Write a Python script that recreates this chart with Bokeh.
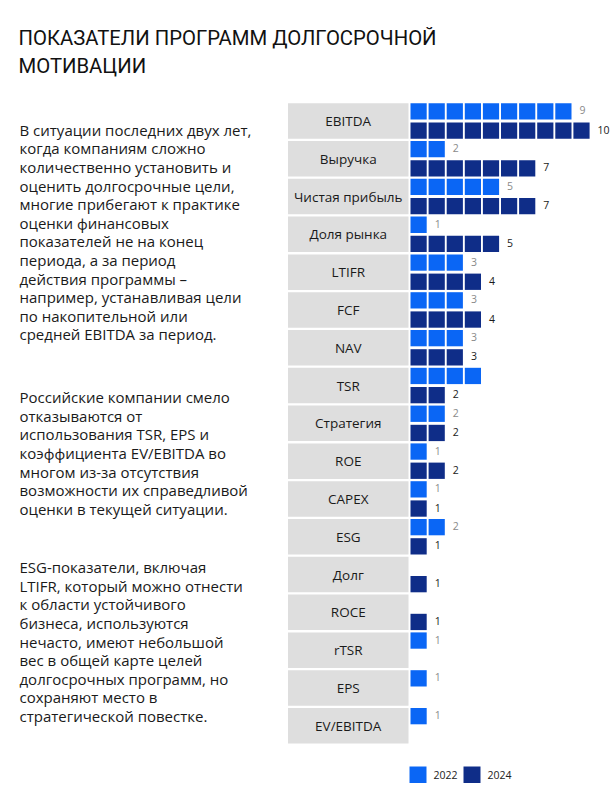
from bokeh.plotting import figure
from bokeh.models import Range1d
from bokeh.core.properties import value
from bokeh.embed import file_html
from bokeh.resources import INLINE

# ---------------- data ----------------
title_lines = ["ПОКАЗАТЕЛИ ПРОГРАММ ДОЛГОСРОЧНОЙ", "МОТИВАЦИИ"]
para1 = [
    "В ситуации последних двух лет,",
    "когда компаниям сложно",
    "количественно установить и",
    "оценить долгосрочные цели,",
    "многие прибегают к практике",
    "оценки финансовых",
    "показателей не на конец",
    "периода, а за период",
    "действия программы –",
    "например, устанавливая цели",
    "по накопительной или",
    "средней EBITDA за период.",
]
para2 = [
    "Российские компании смело",
    "отказываются от",
    "использования TSR, EPS и",
    "коэффициента EV/EBITDA во",
    "многом из-за отсутствия",
    "возможности их справедливой",
    "оценки в текущей ситуации.",
]
para3 = [
    "ESG-показатели, включая",
    "LTIFR, который можно отнести",
    "к области устойчивого",
    "бизнеса, используются",
    "нечасто, имеют небольшой",
    "вес в общей карте целей",
    "долгосрочных программ, но",
    "сохраняют место в",
    "стратегической повестке.",
]
categories = ["EBITDA", "Выручка", "Чистая прибыль", "Доля рынка", "LTIFR", "FCF",
              "NAV", "TSR", "Стратегия", "ROE", "CAPEX", "ESG", "Долг", "ROCE",
              "rTSR", "EPS", "EV/EBITDA"]
v2022 = [9, 2, 5, 1, 3, 3, 3, 4, 2, 1, 1, 2, 0, 0, 1, 1, 1]
v2024 = [10, 7, 7, 5, 4, 4, 3, 2, 2, 2, 1, 1, 1, 1, 0, 0, 0]
lbl2022 = ["9", "2", "5", "1", "3", "3", "3", "", "2", "1", "1", "2", "", "", "1", "1", "1"]
lbl2024 = ["10", "7", "7", "5", "4", "4", "3", "2", "2", "2", "1", "1", "1", "1", "", "", ""]
years = ["2022", "2024"]

# ---------------- style / layout ----------------
C22 = "#0A66F5"
C24 = "#0F2D88"
BOX = "#DEDEDE"
TXT = "#1A1A1A"
FONT = value("Open Sans")

W, H = 613, 800
OFF = 0

BOX_L, BOX_R = 287.5 - OFF, 408 - OFF
ROW0, ROWP, BOXH = 102.7 - OFF, 37.8, 35.5
SQ_X0, SQ_P, SQ_W, SQ_H = 410 - OFF, 18.1, 16.2, 16.3
DARK_DY = 19.2

p = figure(width=W, height=H, x_range=Range1d(0, W), y_range=Range1d(H, 0),
           output_backend="svg", toolbar_location=None,
           x_axis_type=None, y_axis_type=None, min_border=0,
           outline_line_color=None, background_fill_color="white",
           border_fill_color="white")

# title
p.text(x=[18 - OFF] * len(title_lines),
       y=[37.3 - OFF + i * 28.3 for i in range(len(title_lines))],
       text=title_lines, text_font=value("Roboto"), text_font_size="20.3px",
       text_color="#111111", text_baseline="alphabetic", text_align="left")

# paragraphs
def para(lines, y0):
    p.text(x=[19 - OFF] * len(lines),
           y=[y0 - OFF + i * 18.6 for i in range(len(lines))],
           text=lines, text_font=FONT, text_font_size="15px",
           text_color=TXT, text_baseline="alphabetic", text_align="left")

para(para1, 129.3)
para(para2, 396.7)
para(para3, 566.7)

# category boxes
n = len(categories)
tops = [ROW0 + i * ROWP for i in range(n)]
p.quad(left=[BOX_L] * n, right=[BOX_R] * n, top=tops,
       bottom=[t + BOXH for t in tops], fill_color=BOX, line_color=None)
p.text(x=[(BOX_L + BOX_R) / 2] * n, y=[t + BOXH / 2 for t in tops], text=categories,
       text_font=FONT, text_font_size="13.5px", text_color=TXT,
       text_align="center", text_baseline="middle")

# waffle squares
def squares(vals, dy, color):
    L, R, T, B = [], [], [], []
    for i, v in enumerate(vals):
        for k in range(v):
            l = SQ_X0 + k * SQ_P
            L.append(l); R.append(l + SQ_W)
            T.append(tops[i] + dy); B.append(tops[i] + dy + SQ_H)
    p.quad(left=L, right=R, top=T, bottom=B, fill_color=color, line_color=None)

squares(v2022, 0, C22)
squares(v2024, DARK_DY, C24)

# value labels
def labels(vals, lbls, dy, color, size):
    xs, ys, ts = [], [], []
    for i, (v, t) in enumerate(zip(vals, lbls)):
        if t:
            xs.append(SQ_X0 + v * SQ_P - (SQ_P - SQ_W) + 8)
            ys.append(tops[i] + dy + SQ_H / 2 - 1)
            ts.append(t)
    p.text(x=xs, y=ys, text=ts, text_font=FONT, text_font_size=size,
           text_color=color, text_align="left", text_baseline="middle")

labels(v2022, lbl2022, 0, "#8A8A8A", "10.5px")
labels(v2024, lbl2024, DARK_DY, "#1A1A1A", "10.5px")

# legend
LEG_Y = 766 - OFF
leg_x = [409 - OFF, 463 - OFF]
p.quad(left=leg_x, right=[x + 17 for x in leg_x], top=[LEG_Y] * 2,
       bottom=[LEG_Y + 16.5] * 2, fill_color=[C22, C24], line_color=None)
p.text(x=[x + 24 for x in leg_x], y=[LEG_Y + 8.3] * 2, text=years,
       text_font=FONT, text_font_size="10.5px", text_color="#222222",
       text_align="left", text_baseline="middle")

open("out.html", "w").write(file_html(p, INLINE))
